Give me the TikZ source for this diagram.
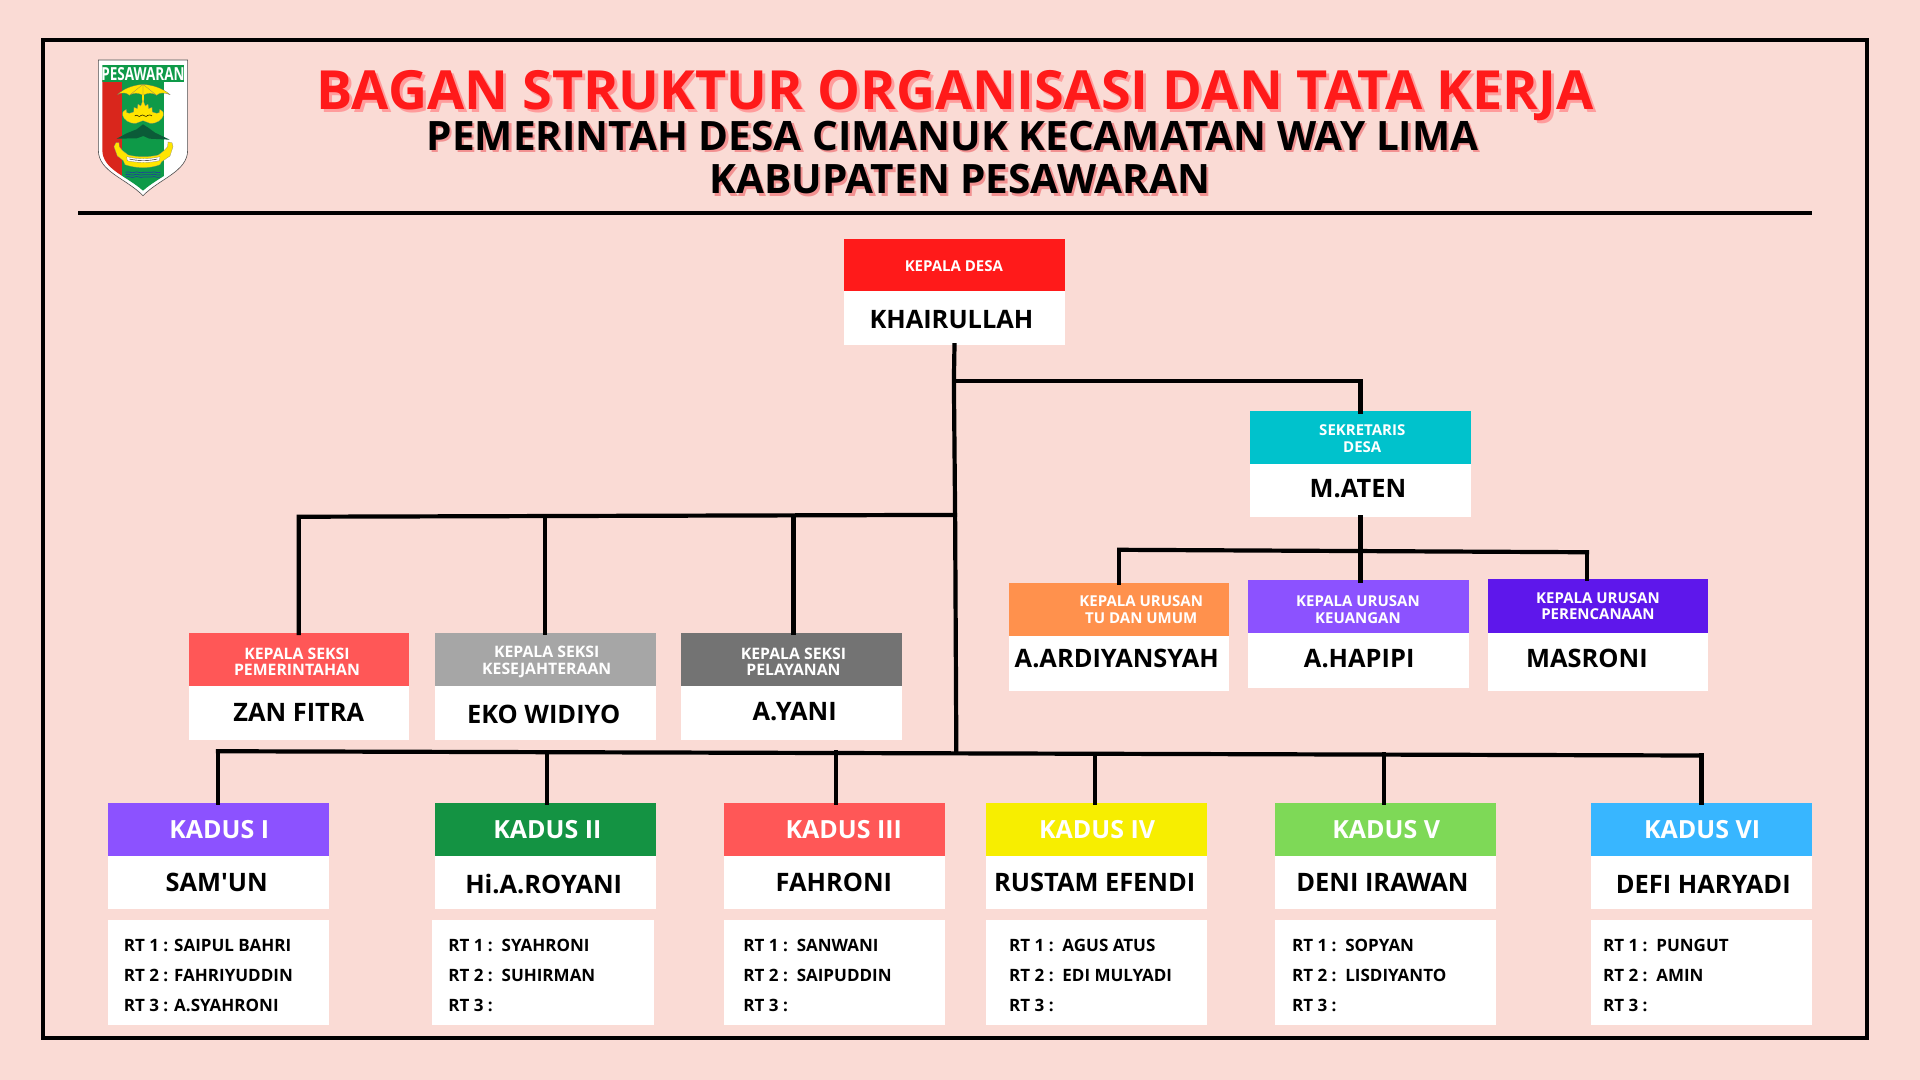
\documentclass[tikz,border=0pt]{standalone}
\usepackage{fontspec}
\usetikzlibrary{fit}
\setmainfont{Open Sans}
\newfontfamily\plainquote{Open Sans}
\definecolor{pagebg}{HTML}{FADBD5}
\definecolor{titlered}{HTML}{FF1A1A}
\definecolor{titleshadow}{HTML}{FF9C9C}
\definecolor{subshadow}{HTML}{F29191}
\definecolor{cRed}{HTML}{FF1A1A}
\definecolor{cTeal}{HTML}{00C2CC}
\definecolor{cOrange}{HTML}{FF914D}
\definecolor{cViolet}{HTML}{8C52FF}
\definecolor{cIndigo}{HTML}{5E17EB}
\definecolor{cCoral}{HTML}{FF5757}
\definecolor{cGrayL}{HTML}{A6A6A6}
\definecolor{cGrayD}{HTML}{737373}
\definecolor{cGreen}{HTML}{149343}
\definecolor{cYellow}{HTML}{F7EE00}
\definecolor{cLime}{HTML}{7ED957}
\definecolor{cSky}{HTML}{38B6FF}
\definecolor{logoGreen}{HTML}{0E9A48}
\definecolor{logoRed}{HTML}{D9261C}
\definecolor{logoYellow}{HTML}{FFE500}
\definecolor{logoDark}{HTML}{0B5B38}
\definecolor{logoBlue}{HTML}{1F3F9A}
\tikzset{
  headbox/.style={fit={#1},inner sep=0pt,outer sep=0pt,draw=none},
  namebox/.style={fit={#1},inner sep=0pt,outer sep=0pt,draw=none,fill=white},
  hdtext/.style={text=white,align=center,inner sep=0pt,font=\fontsize{15}{16.8}\selectfont\bfseries},
  kstext/.style={text=white,align=center,inner sep=0pt,font=\fontsize{15.8}{16.8}\selectfont\bfseries},
  nmtext/.style={text=black,inner sep=0pt,font=\fontsize{25.4}{30}\selectfont\bfseries},
  kdtext/.style={text=white,inner sep=0pt,font=\fontsize{25}{30}\selectfont\bfseries},
  rttext/.style={text=black,inner sep=0pt,anchor=west,align=left,font=\fontsize{17}{30}\selectfont\bfseries},
  wire/.style={draw=black,line width=4.2pt,line cap=rect,line join=miter},
  frameline/.style={draw=black,line width=4pt},
}
\newcommand{\card}[7]{%
  \node (#1-h) [headbox={(#2,#4)(#3,#5)},fill=#7] {};
  \node (#1-n) [namebox={(#2,#5)(#3,#6)}] {};
}
\newcommand{\hdlbl}[5]{%
  \node (#1-ht) [#5] at (#2,#3) {#4};
}
\newcommand{\rtbox}[7]{%
  \node (#1-r) [namebox={(#2,751)(#3,837)}] {};
  \node (#1-rt) [rttext] at (#4,797) {#5\\#6\\#7};
}
\begin{document}
\begin{tikzpicture}[x=1.22449pt,y=-1.22449pt]
\useasboundingbox (0,0) rectangle (1568,882);
\fill[pagebg] (0,0) rectangle (1568,882);
% frame
\node (frame) [frameline,fit={(35,33)(1525,848)},inner sep=0pt,outer sep=0pt] {};
\coordinate (ruleL) at (64,174);
\coordinate (ruleR) at (1480,174);
\draw[frameline] (ruleL) -- (ruleR);
% titles
\node (t1s) [text=titleshadow,font=\fontsize{54}{54}\selectfont\bfseries,inner sep=0pt] at (782.5,80.5) {BAGAN STRUKTUR ORGANISASI DAN TATA KERJA};
\node (t1) [text=titlered,font=\fontsize{54}{54}\selectfont\bfseries,inner sep=0pt] at (780,78) {BAGAN STRUKTUR ORGANISASI DAN TATA KERJA};
\node (t2s) [text=subshadow,font=\fontsize{40.5}{44}\selectfont\bfseries,inner sep=0pt] at (779.8,112.8) {PEMERINTAH DESA CIMANUK KECAMATAN WAY LIMA};
\node (t2) [text=black,font=\fontsize{40.5}{44}\selectfont\bfseries,inner sep=0pt] at (778,111) {PEMERINTAH DESA CIMANUK KECAMATAN WAY LIMA};
\node (t3s) [text=subshadow,font=\fontsize{40.5}{44}\selectfont\bfseries,inner sep=0pt] at (785.8,148.3) {KABUPATEN PESAWARAN};
\node (t3) [text=black,font=\fontsize{40.5}{44}\selectfont\bfseries,inner sep=0pt] at (784,146.5) {KABUPATEN PESAWARAN};
% logo, coordinates in 3x crop pixels
\begin{scope}[shift={(60pt,-30pt)},x=0.33333pt,y=-0.33333pt]
  \fill[white,draw=black!70,line width=0.6pt] (115,90) -- (383,90) -- (383,360) .. controls (383,425) and (300,445) .. (249,497) .. controls (198,445) and (115,425) .. (115,360) -- cycle;
  \begin{scope}
    \clip (127,105) -- (372,105) -- (372,360) .. controls (372,418) and (298,438) .. (249,482) .. controls (200,438) and (127,418) .. (127,360) -- cycle;
    \fill[logoRed] (127,150) rectangle (186,490);
    \fill[logoGreen] (186,150) rectangle (313,490);
    \fill[white] (313,150) rectangle (372,490);
    \fill[logoGreen] (127,105) rectangle (372,155);
  \end{scope}
  \node (logotext) [text=white,inner sep=0pt,font=\fontsize{18}{18}\selectfont\bfseries] at (249,133) {\scalebox{0.75}[1]{PESAWARAN}};
  % umbrella
  \fill[logoYellow,draw=black!60,line width=0.2pt] (172,194) .. controls (195,172) and (225,165) .. (249,163) .. controls (275,165) and (305,172) .. (330,194) .. controls (312,186) and (298,188) .. (290,196) .. controls (278,188) and (262,188) .. (249,196) .. controls (236,188) and (220,188) .. (208,196) .. controls (200,188) and (186,186) .. (172,194) -- cycle;
  \draw[black!55,line width=0.2pt] (249,163) -- (249,196) (249,163) -- (208,196) (249,163) -- (290,196);
  \fill[logoYellow] (246,194) rectangle (253,222);
  % crown
  \fill[logoYellow,draw=black!50,line width=0.2pt] (249,210) -- (256,228) -- (264,222) -- (266,236) -- (276,232) -- (277,246) -- (290,250) .. controls (296,252) and (302,246) .. (299,238) .. controls (306,240) and (312,246) .. (310,256) .. controls (306,270) and (292,281) .. (270,280) -- (249,272) -- (228,280) .. controls (206,281) and (192,270) .. (188,256) .. controls (186,246) and (192,240) .. (199,238) .. controls (196,246) and (202,252) .. (208,250) -- (221,246) -- (222,232) -- (232,236) -- (234,222) -- (242,228) -- cycle;
  \draw[black,line width=0.5pt] (224,258) .. controls (232,250) and (236,266) .. (244,256) .. controls (250,250) and (256,266) .. (264,256) .. controls (268,252) and (272,256) .. (276,258);
  % mountain
  \fill[logoDark] (170,326) -- (200,310) -- (230,298) -- (249,283) -- (266,294) -- (285,308) -- (329,329) -- (268,326) -- (250,318) -- (230,325) -- cycle;
  % ribbon
  \fill[logoYellow,draw=black!50,line width=0.2pt] (168,338) -- (177,338) -- (178,350) -- (188,362) -- (205,375) .. controls (235,382) and (265,382) .. (295,375) -- (312,362) -- (323,350) -- (324,336) -- (336,338) -- (339,350) -- (330,378) -- (305,395) -- (300,404) .. controls (270,416) and (230,416) .. (195,404) -- (190,392) -- (172,378) -- (162,350) -- cycle;
  \fill[white,draw=black!60,line width=0.2pt] (200,380) .. controls (230,388) and (270,388) .. (300,380) -- (298,392) .. controls (270,399) and (230,399) .. (202,392) -- cycle;
  \draw[black,line width=0.4pt] (208,387) .. controls (230,393) and (270,393) .. (292,387);
  % waves
  \foreach \yy in {427,434,441} {
    \draw[logoBlue,line width=0.7pt] (197,\yy) .. controls (207,\yy-5) and (214,\yy+5) .. (224,\yy) .. controls (232,\yy-5) and (240,\yy+5) .. (250,\yy) .. controls (260,\yy-5) and (266,\yy+5) .. (276,\yy) .. controls (284,\yy-5) and (292,\yy+5) .. (301,\yy);
  }
\end{scope}
% cards
\card{kd}{689}{870}{195}{238}{282}{cRed}
\hdlbl{kd}{779}{217}{KEPALA DESA}{hdtext}
\node (kd-nt) [nmtext] at (777,261) {KHAIRULLAH};
\card{sk}{1021}{1201}{336}{379}{422}{cTeal}
\hdlbl{sk}{1112.5}{358}{SEKRETARIS\\DESA}{hdtext}
\node (sk-nt) [nmtext] at (1109,399) {M.ATEN};
\card{tu}{824}{1004}{476}{519}{564}{cOrange}
\hdlbl{tu}{932}{498}{KEPALA URUSAN\\TU DAN UMUM}{hdtext}
\node (tu-nt) [nmtext] at (912,538) {A.ARDIYANSYAH};
\card{ku}{1019}{1200}{474}{517}{562}{cViolet}
\hdlbl{ku}{1109}{498}{KEPALA URUSAN\\KEUANGAN}{hdtext}
\node (ku-nt) [nmtext] at (1110,538) {A.HAPIPI};
\card{pr}{1215}{1395}{473}{517}{564}{cIndigo}
\hdlbl{pr}{1305}{495}{KEPALA URUSAN\\PERENCANAAN}{hdtext}
\node (pr-nt) [nmtext] at (1296,538) {MASRONI};
\card{ks1}{154}{334}{517}{560}{604}{cCoral}
\hdlbl{ks1}{242.5}{540.5}{KEPALA SEKSI\\PEMERINTAHAN}{kstext}
\node (ks1-nt) [nmtext] at (244,581.5) {ZAN FITRA};
\card{ks2}{355}{536}{517}{560}{604}{cGrayL}
\hdlbl{ks2}{446.5}{540.5}{KEPALA SEKSI\\KESEJAHTERAAN}{kstext}
\node (ks2-nt) [nmtext] at (444,583.5) {EKO WIDIYO};
\card{ks3}{556}{737}{517}{560}{604}{cGrayD}
\hdlbl{ks3}{648}{540.5}{KEPALA SEKSI\\PELAYANAN}{kstext}
\node (ks3-nt) [nmtext] at (649,581.5) {A.YANI};
% kadus
\card{k1}{88}{269}{656}{699}{742}{cViolet}
\hdlbl{k1}{179}{677.5}{KADUS I}{kdtext}
\node (k1-nt) [nmtext] at (177,721) {\plainquote SAM'UN};
\rtbox{k1}{88}{269}{101}{RT 1 : SAIPUL BAHRI}{RT 2 : FAHRIYUDDIN}{RT 3 : A.SYAHRONI}
\card{k2}{355}{536}{656}{699}{742}{cGreen}
\hdlbl{k2}{447}{677.5}{KADUS II}{kdtext}
\node (k2-nt) [nmtext] at (444,722) {Hi.A.ROYANI};
\rtbox{k2}{353}{534}{366}{RT 1 :~~SYAHRONI}{RT 2 :~~SUHIRMAN}{RT 3 :}
\card{k3}{591}{772}{656}{699}{742}{cCoral}
\hdlbl{k3}{689}{677.5}{KADUS III}{kdtext}
\node (k3-nt) [nmtext] at (681,721) {FAHRONI};
\rtbox{k3}{591}{772}{607}{RT 1 :~~SANWANI}{RT 2 :~~SAIPUDDIN}{RT 3 :}
\card{k4}{805}{986}{656}{699}{742}{cYellow}
\hdlbl{k4}{896}{677.5}{KADUS IV}{kdtext}
\node (k4-nt) [nmtext] at (894,721) {RUSTAM EFENDI};
\rtbox{k4}{805}{986}{824}{RT 1 :~~AGUS ATUS}{RT 2 :~~EDI MULYADI}{RT 3 :}
\card{k5}{1041}{1222}{656}{699}{742}{cLime}
\hdlbl{k5}{1132}{677.5}{KADUS V}{kdtext}
\node (k5-nt) [nmtext] at (1129,721) {DENI IRAWAN};
\rtbox{k5}{1041}{1222}{1055}{RT 1 :~~SOPYAN}{RT 2 :~~LISDIYANTO}{RT 3 :}
\card{k6}{1299}{1480}{656}{699}{742}{cSky}
\hdlbl{k6}{1390}{677.5}{KADUS VI}{kdtext}
\node (k6-nt) [nmtext] at (1391,722) {DEFI HARYADI};
\rtbox{k6}{1299}{1480}{1309}{RT 1 :~~PUNGUT}{RT 2 :~~AMIN}{RT 3 :}
% junctions
\coordinate (a1) at (779,282);
\coordinate (a2) at (779,311);
\coordinate (a3) at (780,420.5);
\coordinate (a4) at (781,614);
\coordinate (s0) at (1111,311);
\coordinate (kL) at (244,422);
\coordinate (k2t) at (445,422);
\coordinate (k3t) at (648,422);
\coordinate (bL) at (178,613.5);
\coordinate (bR) at (1389.5,617);
\coordinate (b2) at (447,614);
\coordinate (b3) at (683,614.5);
\coordinate (b4) at (894,615.5);
\coordinate (b5) at (1130,616);
\coordinate (m1) at (1111,422);
\coordinate (m2) at (1111,450);
\coordinate (mL) at (914,449);
\coordinate (mR) at (1296,451);
% wires
\draw[wire] (kd-n.south) -- (a2) -- (a3) -- (a4);
\draw[wire] (a2) -- (s0) -- (sk-h.north -| s0);
\draw[wire] (a3) -- (kL) -- (ks1-h.north -| kL);
\draw[wire] (k2t) -- (ks2-h.north -| k2t);
\draw[wire] (k3t) -- (ks3-h.north -| k3t);
\draw[wire] (bL) -- (bR);
\draw[wire] (bL) -- (k1-h.north -| bL);
\draw[wire] (b2) -- (k2-h.north -| b2);
\draw[wire] (b3) -- (k3-h.north -| b3);
\draw[wire] (b4) -- (k4-h.north -| b4);
\draw[wire] (b5) -- (k5-h.north -| b5);
\draw[wire] (bR) -- (k6-h.north -| bR);
\draw[wire] (sk-n.south -| m1) -- (m2);
\draw[wire] (mL) -- (mR);
\draw[wire] (mL) -- (tu-h.north -| mL);
\draw[wire] (m2) -- (ku-h.north -| m2);
\draw[wire] (mR) -- (pr-h.north -| mR);
\end{tikzpicture}
\end{document}
